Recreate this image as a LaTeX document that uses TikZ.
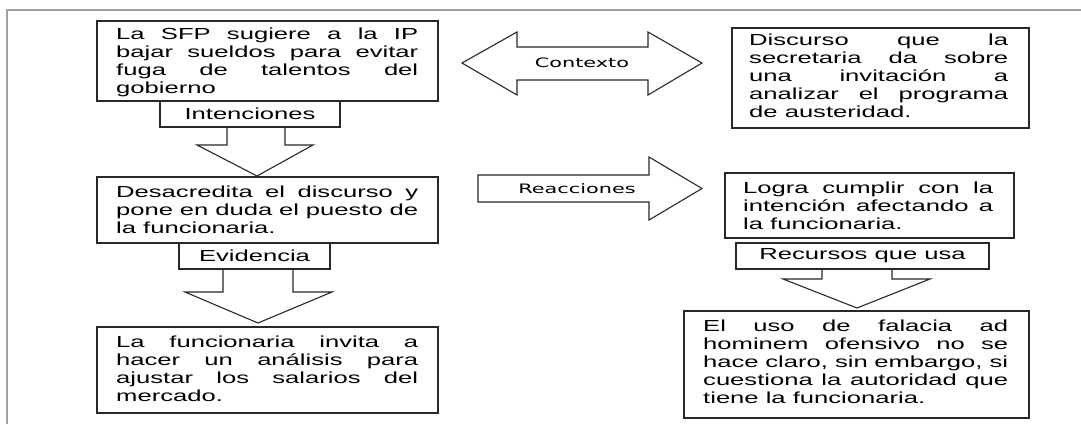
\documentclass[tikz,border=0pt]{standalone}
\usepackage{fontspec}
\setmainfont{Liberation Sans}
\newfontfamily\bodyfont{Liberation Sans}[FakeStretch=1.6]
\newfontfamily\lblfont{DejaVu Sans}[FakeStretch=1.6]
\setlength\parindent{0pt}
\newcommand\jbox[2]{\vbox{\hsize=#1\relax #2}}
\newcommand\jl[1]{\hbox to \hsize{\spaceskip=0.3em plus 2em minus 0.1em #1}}
\newcommand\lastln[1]{\hbox{#1}}
\definecolor{frm}{RGB}{160,160,160}
\definecolor{ink}{RGB}{40,40,40}
\tikzset{
  box/.style={draw=ink, line width=1.1pt, anchor=north west, inner sep=0pt, outer sep=0pt},
  txt/.style={anchor=north west, inner sep=0pt, font=\bodyfont\fontsize{16}{18}\selectfont},
  lab/.style={draw=ink, line width=1.1pt, inner sep=0pt, outer sep=0pt, font=\bodyfont\fontsize{16}{18}\selectfont},
  barrow/.style={draw=ink, line width=1.1pt, line join=miter},
  albl/.style={font=\lblfont\fontsize{13}{15}\selectfont, inner sep=0pt}
}
\begin{document}
\begin{tikzpicture}[x=1pt,y=-1pt]
\useasboundingbox (0,0) rectangle (1081,424);
% frame
\draw[frm, line width=1.5pt] (7,424) -- (7,10) -- (1081,10);

% left column boxes
\node[box, minimum width=341pt, minimum height=80pt] (b1) at (97,21) {};
\node[txt] (t1) at (116,27.5) {\jbox{302pt}{\jl{La SFP sugiere a la IP}\jl{bajar sueldos para evitar}\jl{fuga de talentos del}\lastln{gobierno}}};
\node[lab, minimum width=180pt, minimum height=26pt] (l1) at (250,114) {Intenciones};

\node[box, minimum width=341pt, minimum height=66pt] (b2) at (97,177) {};
\node[txt] (t2) at (116,185.5) {\jbox{302pt}{\jl{Desacredita el discurso y}\jl{pone en duda el puesto de}\lastln{la funcionaria.}}};
\node[lab, minimum width=151pt, minimum height=26pt] (l2) at (254.5,256) {Evidencia};

\node[box, minimum width=341pt, minimum height=86pt] (b3) at (97,327) {};
\node[txt] (t3) at (116,335.5) {\jbox{302pt}{\jl{La funcionaria invita a}\jl{hacer un análisis para}\jl{ajustar los salarios del}\lastln{mercado.}}};

% right column boxes
\node[box, minimum width=297pt, minimum height=100pt] (b4) at (732,28) {};
\node[txt] (t4) at (749,33.5) {\jbox{259pt}{\jl{Discurso que la}\jl{secretaria da sobre}\jl{una invitación a}\jl{analizar el programa}\lastln{de austeridad.}}};

\node[box, minimum width=289pt, minimum height=65pt] (b5) at (725,173) {};
\node[txt] (t5) at (743,181.5) {\jbox{250pt}{\jl{Logra cumplir con la}\jl{intención afectando a}\lastln{la funcionaria.}}};
\node[lab, minimum width=253pt, minimum height=26pt] (l3) at (862.5,256) {Recursos que usa};

\node[box, minimum width=345pt, minimum height=107pt] (b6) at (684,311) {};
\node[txt] (t6) at (703,319.5) {\jbox{305pt}{\jl{El uso de falacia ad}\jl{hominem ofensivo no se}\jl{hace claro, sin embargo, si}\jl{cuestiona la autoridad que}\lastln{tiene la funcionaria.}}};

% block arrows (down)
\draw[barrow] (227,127) -- (227,145) -- (197,145) -- (257,176) -- (313,145) -- (285,145) -- (285,127);
\draw[barrow] (223,269) -- (223,292) -- (185,292) -- (258,323) -- (332,292) -- (293,292) -- (293,269);
\draw[barrow] (822,269) -- (822,279) -- (783,279) -- (857,308) -- (930,279) -- (892,279) -- (892,269);

% double arrow Contexto
\draw[barrow] (462,63) -- (517,32) -- (517,47) -- (648,47) -- (648,32) -- (702,63) -- (648,95) -- (648,80) -- (517,80) -- (517,95) -- cycle;
\node[albl] (c1) at (582,63) {Contexto};

% arrow Reacciones
\draw[barrow] (478,175) -- (649,175) -- (649,157) -- (702,188.5) -- (649,220) -- (649,202) -- (478,202) -- cycle;
\node[albl] (r1) at (577,188.5) {Reacciones};
\end{tikzpicture}
\end{document}
